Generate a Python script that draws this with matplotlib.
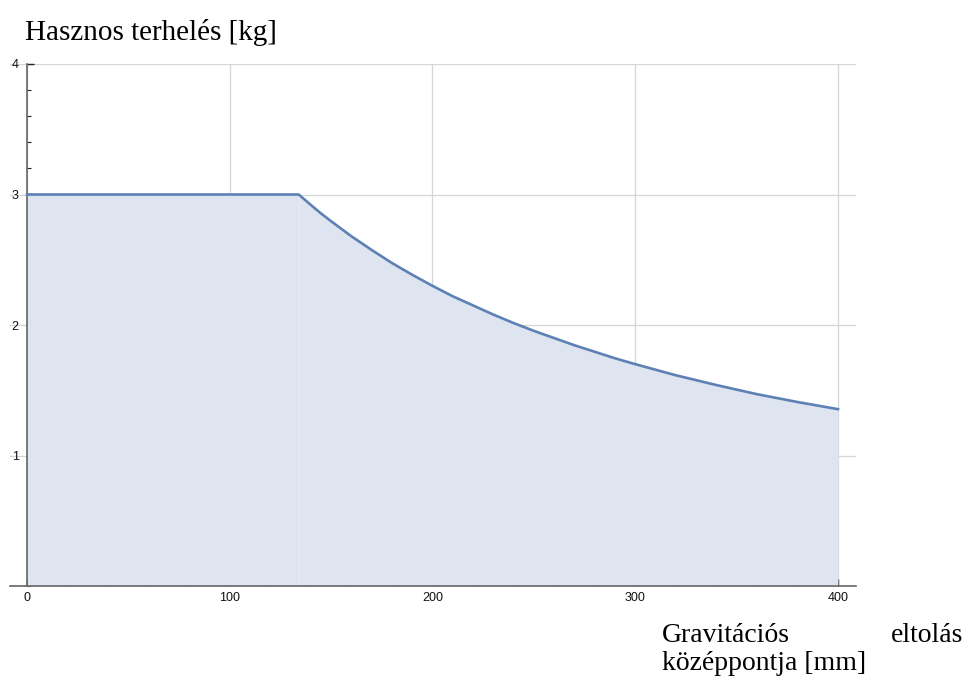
import matplotlib
matplotlib.use("Agg")
from matplotlib import pyplot as plt
from matplotlib.ticker import MultipleLocator

# payload [kg] vs. centre of gravity offset [mm]
offset_mm = [0, 50, 100, 134, 140, 145, 150, 160, 170, 180, 190, 200, 210, 220,
             230, 240, 250, 260, 270, 280, 290, 300, 320, 340, 360, 380, 400]
payload_kg = [3.0, 3.0, 3.0, 3.0, 2.92, 2.855, 2.795, 2.68, 2.575, 2.475, 2.385, 2.30,
              2.22, 2.15, 2.08, 2.015, 1.955, 1.90, 1.845, 1.795, 1.745, 1.70,
              1.615, 1.54, 1.47, 1.41, 1.355]

x_ticks = [0, 100, 200, 300, 400]
y_ticks = [1, 2, 3, 4]

line_col = "#5e81b5"
fill_col = "#dee4f0"
axis_col = "#666666"
grid_col = "#d6d6d6"

fig = plt.figure(figsize=(9.68, 6.81), dpi=100)
ax = fig.add_axes([10 / 968, 1 - 586 / 681, 846 / 968, 522 / 681])

ax.fill_between(offset_mm, payload_kg, 0, color=fill_col, linewidth=0, zorder=1)
ax.plot(offset_mm, payload_kg, color=line_col, linewidth=1.9, zorder=3,
        solid_joinstyle="round")
ax.vlines(134, 0, 3.0, color="#e8ecf4", linewidth=1, zorder=1.5)

ax.set_xlim(-8.4, 408.9)
ax.set_ylim(0, 4)

for s in ["top", "right"]:
    ax.spines[s].set_visible(False)
ax.spines["left"].set_position(("data", 0))
for s in ["left", "bottom"]:
    ax.spines[s].set_color(axis_col)
    ax.spines[s].set_linewidth(1.2)

ax.set_xticks(x_ticks)
ax.set_yticks(y_ticks)
ax.xaxis.set_minor_locator(MultipleLocator(20))
ax.yaxis.set_minor_locator(MultipleLocator(0.2))
ax.tick_params(which="major", direction="in", length=5, width=1, color="#222222",
               labelsize=9, labelcolor="#111111", pad=4)
ax.tick_params(which="minor", direction="in", length=3, width=0.8, color="#222222")
ax.tick_params(axis="y", which="major", pad=6)
for lab in ax.get_xticklabels() + ax.get_yticklabels():
    lab.set_family(["Liberation Sans", "DejaVu Sans"])

ax.grid(True, which="major", color=grid_col, linewidth=0.9, zorder=0)
ax.set_axisbelow(True)

serif = ["Liberation Serif", "DejaVu Serif"]
fig.text(25 / 968, 1 - 33 / 681, "Hasznos terhelés [kg]", family=serif,
         fontsize=21, ha="left", va="center")
fig.text(662 / 968, 1 - 636 / 681, "Gravitációs", family=serif,
         fontsize=20, ha="left", va="center")
fig.text(963 / 968, 1 - 636 / 681, "eltolás", family=serif,
         fontsize=20, ha="right", va="center")
fig.text(662 / 968, 1 - 663 / 681, "középpontja [mm]", family=serif,
         fontsize=20, ha="left", va="center")

plt.savefig("out.png", dpi=100)
